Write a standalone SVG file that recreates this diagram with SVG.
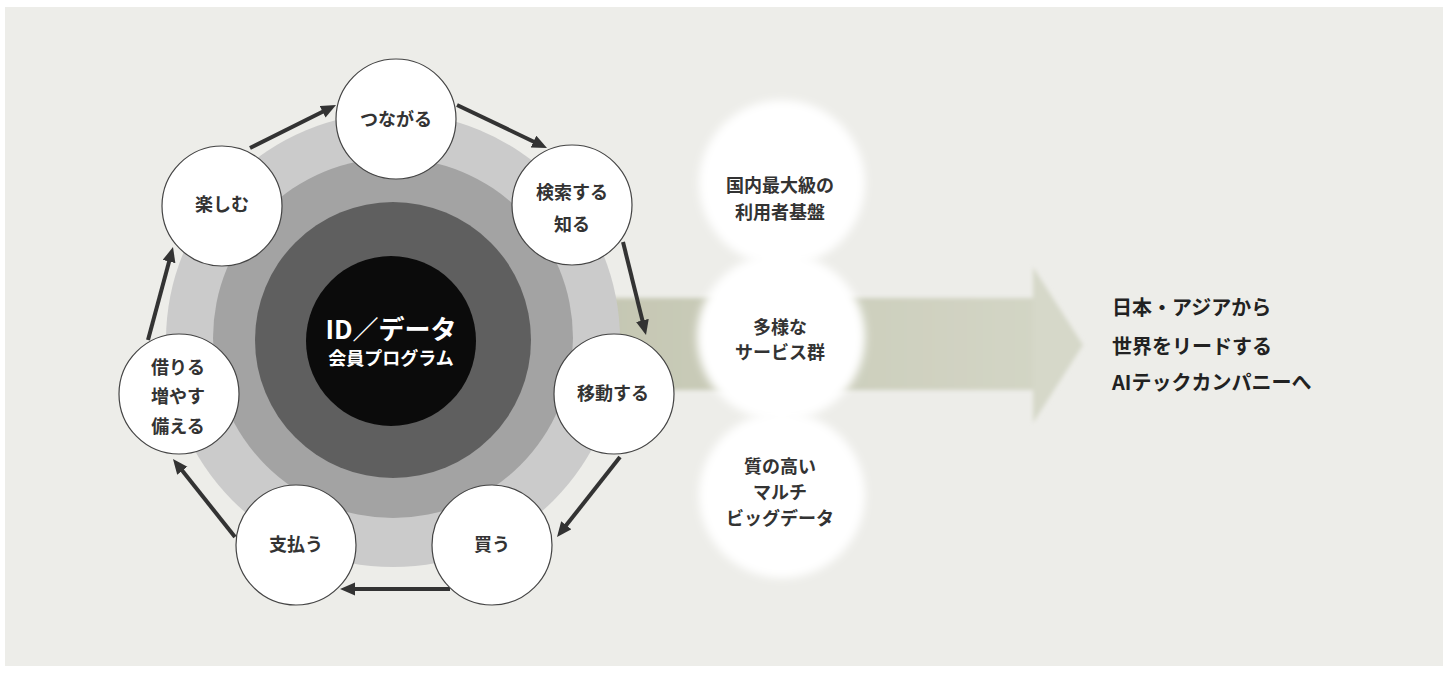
<svg xmlns="http://www.w3.org/2000/svg" width="1453" height="674" viewBox="0 0 1453 674">
<defs>
<style>
.node{fill:#fff;stroke:#444;stroke-width:1.2}
.t{font-family:"Noto Sans CJK JP","Noto Sans",sans-serif;font-weight:700;fill:#333;text-anchor:middle;font-size:18px}
.m{font-size:18px}
.r{font-family:"Noto Sans CJK JP","Noto Sans",sans-serif;font-weight:700;fill:#222;font-size:20px}
.c{fill:none;stroke:#333;stroke-width:4;marker-end:url(#ah)}
</style>
<marker id="ah" markerUnits="userSpaceOnUse" markerWidth="16" markerHeight="14" refX="5" refY="6.5" orient="auto">
<path d="M0,0 L15,6.5 L0,13 z" fill="#333"/>
</marker>
<linearGradient id="shaft" x1="0" x2="1" y1="0" y2="0">
<stop offset="0" stop-color="#c5c7b3"/>
<stop offset="1" stop-color="#d3d5c5"/>
</linearGradient>
<filter id="blur" x="-30%" y="-30%" width="160%" height="160%"><feGaussianBlur stdDeviation="4"/></filter>
<filter id="soft" x="-10%" y="-30%" width="120%" height="160%"><feGaussianBlur stdDeviation="2"/></filter>
</defs>
<rect x="5" y="7" width="1438" height="659" fill="#edede9"/>
<g id="bigarrow" filter="url(#soft)">
<rect x="600" y="298" width="435" height="92" fill="url(#shaft)"/>
<path d="M1033,267 L1083,345 L1033,423 z" fill="#d6d8c9"/>
</g>
<g id="rings">
<circle cx="393" cy="340" r="227" fill="#cbcbcb"/>
<circle cx="393" cy="338" r="180" fill="#a3a3a3"/>
<circle cx="393" cy="340" r="138" fill="#5f5f5f"/>
<circle cx="391" cy="341" r="85" fill="#0b0b0b"/>
</g>
<g id="center">
<text x="391" y="339" class="t" style="fill:#fff;font-size:26px">ID／データ</text>
<text x="391" y="365" class="t" style="fill:#fff;font-size:18px">会員プログラム</text>
</g>
<g id="connectors">
<line class="c" x1="250" y1="148" x2="327.1" y2="109.5"/>
<line class="c" x1="457" y1="105" x2="538" y2="143.7"/>
<line class="c" x1="623" y1="242" x2="643.6" y2="325.3"/>
<line class="c" x1="620" y1="457" x2="563.2" y2="529.1"/>
<line class="c" x1="450" y1="589" x2="350" y2="589"/>
<line class="c" x1="235" y1="537" x2="179.2" y2="466.8"/>
<line class="c" x1="148" y1="340" x2="170.4" y2="256.7"/>
</g>
<g id="n-tsunagaru"><circle class="node" cx="396" cy="119" r="60"/><text class="t" x="396" y="126">つながる</text></g>
<g id="n-kensaku"><circle class="node" cx="572" cy="205" r="60"/><text class="t" x="572" y="199">検索する</text><text class="t" x="572" y="231">知る</text></g>
<g id="n-idou"><circle class="node" cx="614" cy="394" r="60"/><text class="t" x="613" y="400">移動する</text></g>
<g id="n-kau"><circle class="node" cx="492" cy="545" r="60"/><text class="t" x="492" y="551">買う</text></g>
<g id="n-shiharau"><circle class="node" cx="296" cy="545" r="60"/><text class="t" x="296" y="551">支払う</text></g>
<g id="n-kariru"><circle class="node" cx="179" cy="394" r="60"/><text class="t" x="178" y="374">借りる</text><text class="t" x="178" y="403">増やす</text><text class="t" x="178" y="433">備える</text></g>
<g id="n-tanoshimu"><circle class="node" cx="222" cy="206" r="60"/><text class="t" x="222" y="211">楽しむ</text></g>
<g id="b-users"><circle cx="782" cy="183" r="83" fill="#fff" filter="url(#blur)"/><text class="t m" x="780" y="192">国内最大級の</text><text class="t m" x="780" y="219">利用者基盤</text></g>
<g id="b-services"><circle cx="781" cy="337" r="84" fill="#fff" filter="url(#blur)"/><text class="t m" x="780" y="334">多様な</text><text class="t m" x="780" y="359">サービス群</text></g>
<g id="b-data"><circle cx="782" cy="495" r="83" fill="#fff" filter="url(#blur)"/><text class="t m" x="780" y="473">質の高い</text><text class="t m" x="780" y="499">マルチ</text><text class="t m" x="780" y="525">ビッグデータ</text></g>
<g id="goal">
<text class="r" x="1112" y="315">日本・アジアから</text>
<text class="r" x="1112" y="354">世界をリードする</text>
<text class="r" x="1112" y="390">AIテックカンパニーへ</text>
</g>
</svg>
